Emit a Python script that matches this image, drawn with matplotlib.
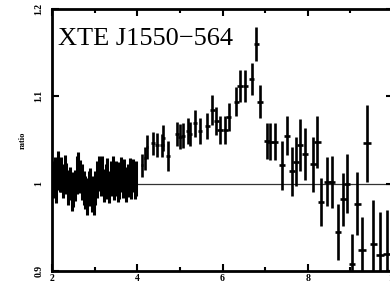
import matplotlib
matplotlib.use("Agg")
import matplotlib.pyplot as plt
from matplotlib.ticker import MultipleLocator, FixedLocator

# ---- data ----
energy_lo = [2.02, 2.06, 2.10, 2.14, 2.18, 2.22, 2.26, 2.30, 2.34, 2.38,
             2.42, 2.46, 2.50, 2.54, 2.58, 2.62, 2.66, 2.70, 2.74, 2.78,
             2.82, 2.86, 2.90, 2.94, 2.98, 3.02, 3.06, 3.10, 3.14, 3.18,
             3.22, 3.26, 3.30, 3.34, 3.38, 3.42, 3.46, 3.50, 3.54, 3.58,
             3.62, 3.66, 3.70, 3.74, 3.78, 3.82, 3.86, 3.90, 3.94, 3.98]
ratio_lo = [1.005, 1.012, 0.998, 1.015, 1.008, 1.010, 1.003, 1.012, 1.006, 0.996,
            1.000, 0.990, 0.993, 0.998, 1.010, 1.016, 1.008, 1.002, 0.995, 0.990,
            0.985, 0.994, 1.000, 0.988, 0.984, 0.995, 1.005, 1.012, 1.004, 1.010,
            0.998, 1.003, 1.008, 0.996, 1.006, 1.013, 1.002, 1.006, 0.998, 1.004,
            1.010, 1.002, 1.007, 0.999, 1.004, 1.008, 1.002, 1.009, 1.003, 1.006]
err_lo = [0.021, 0.019, 0.020, 0.022, 0.018, 0.020, 0.019, 0.021, 0.018, 0.020,
          0.019, 0.021, 0.020, 0.018, 0.022, 0.020, 0.019, 0.021, 0.020, 0.019,
          0.021, 0.020, 0.018, 0.021, 0.020, 0.019, 0.021, 0.020, 0.018, 0.022,
          0.019, 0.020, 0.021, 0.018, 0.020, 0.019, 0.021, 0.020, 0.019, 0.021,
          0.020, 0.018, 0.021, 0.020, 0.019, 0.021, 0.020, 0.019, 0.021, 0.020]

energy_hi = [4.11, 4.18, 4.23, 4.37, 4.46, 4.58, 4.61, 4.72, 4.93, 5.00,
             5.08, 5.19, 5.24, 5.36, 5.47, 5.64, 5.76, 5.85, 5.94, 6.06,
             6.15, 6.32, 6.41, 6.53, 6.69, 6.79, 6.88, 7.05, 7.12, 7.23,
             7.40, 7.52, 7.63, 7.73, 7.82, 7.94, 8.13, 8.22, 8.31, 8.46,
             8.57, 8.71, 8.83, 8.92, 9.04, 9.16, 9.28, 9.39, 9.54, 9.70, 9.86]
ratio_hi = [1.021, 1.029, 1.042, 1.046, 1.044, 1.044, 1.052, 1.032, 1.057, 1.054,
            1.055, 1.060, 1.057, 1.069, 1.060, 1.066, 1.084, 1.072, 1.061, 1.061,
            1.076, 1.094, 1.112, 1.112, 1.120, 1.160, 1.094, 1.049, 1.048, 1.048,
            1.021, 1.055, 1.014, 1.025, 1.044, 1.034, 1.022, 1.048, 0.979, 1.002,
            1.002, 0.945, 0.982, 1.000, 0.908, 0.977, 0.924, 1.046, 0.931, 0.918, 0.920]
err_hi = [0.013, 0.013, 0.014, 0.013, 0.014, 0.013, 0.015, 0.017, 0.014, 0.014,
          0.014, 0.015, 0.014, 0.015, 0.015, 0.015, 0.017, 0.016, 0.016, 0.016,
          0.016, 0.017, 0.018, 0.018, 0.018, 0.019, 0.019, 0.021, 0.021, 0.021,
          0.028, 0.022, 0.028, 0.028, 0.030, 0.030, 0.032, 0.030, 0.028, 0.028,
          0.030, 0.032, 0.030, 0.034, 0.034, 0.036, 0.038, 0.044, 0.050, 0.050, 0.050]
xerr_hi = [0.03, 0.03, 0.03, 0.04, 0.04, 0.04, 0.04, 0.04, 0.05, 0.05,
           0.05, 0.05, 0.05, 0.05, 0.05, 0.06, 0.06, 0.06, 0.06, 0.06,
           0.06, 0.06, 0.06, 0.06, 0.06, 0.06, 0.06, 0.07, 0.07, 0.07,
           0.07, 0.07, 0.07, 0.07, 0.07, 0.07, 0.08, 0.08, 0.08, 0.08,
           0.08, 0.08, 0.08, 0.08, 0.08, 0.08, 0.09, 0.09, 0.09, 0.09, 0.09]

x_ticks = [2, 4, 6, 8, 10]
x_ticklabels = ["2", "4", "6", "8", "10"]
y_ticks = [0.9, 1.0, 1.1, 1.2]
y_ticklabels = ["0.9", "1", "1.1", "1.2"]
title_text = "XTE J1550\u2212564"
ylabel_text = "ratio"

# ---- figure ----
plt.rcParams['font.family'] = ['Liberation Serif', 'DejaVu Serif']
fig = plt.figure(figsize=(3.9, 2.9), dpi=100)
ax = fig.add_axes([52/390, 19/290, 341/390, 262/290])

ax.axhline(1.0, color='#333333', lw=0.9, zorder=1)
ax.errorbar(energy_lo, ratio_lo, yerr=err_lo, xerr=0.022, fmt='none',
            ecolor='black', elinewidth=2.2, capsize=0, zorder=3)
ax.errorbar(energy_hi, ratio_hi, yerr=err_hi, xerr=xerr_hi, fmt='none',
            ecolor='black', elinewidth=1.9, capsize=0, zorder=3)

ax.set_xlim(2, 10)
ax.set_ylim(0.9, 1.2)

for s in ax.spines.values():
    s.set_linewidth(2.0)

ax.xaxis.set_major_locator(FixedLocator(x_ticks))
ax.set_xticklabels(x_ticklabels, fontsize=7, fontweight='bold')
ax.xaxis.set_minor_locator(MultipleLocator(1))
ax.yaxis.set_major_locator(FixedLocator(y_ticks))
ax.set_yticklabels(y_ticklabels, fontsize=7, fontweight='bold', rotation=90, va='center')
ax.tick_params(which='both', direction='in', top=True, right=True, width=1.5)
ax.tick_params(which='major', length=5)
ax.tick_params(which='minor', length=3)
ax.tick_params(axis='x', pad=2)
ax.tick_params(axis='y', pad=6)

ax.set_ylabel(ylabel_text, fontsize=6, fontweight='bold', labelpad=6)
ax.text(0.018, 0.862, title_text, transform=ax.transAxes, fontsize=19,
        va='baseline', ha='left', color='black')

fig.savefig("out.png", dpi=100)
